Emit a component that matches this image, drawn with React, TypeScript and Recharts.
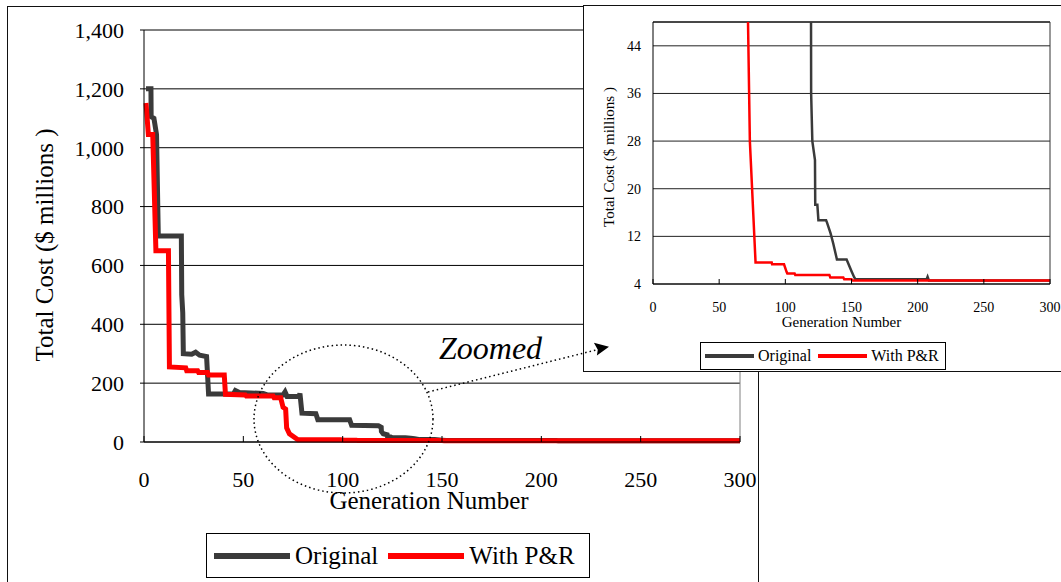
import React from 'react';
import { LineChart, Line, XAxis, YAxis, CartesianGrid, ReferenceLine, Legend } from 'recharts';

const FONT = "'Liberation Serif', 'Times New Roman', 'DejaVu Serif', serif";

// ---- data ----
const originalGen = [1, 3.5, 3.6, 5, 6.3, 7.2, 18.8, 19, 19.5, 19.8, 24, 26, 28, 31.5, 32.5, 45, 46, 48, 60, 62, 70, 71, 72, 78, 78.5, 79.5, 86.5, 87.5, 103.5, 104.5, 118, 119.4, 119.5, 120.4, 122.4, 122.6, 124.2, 125, 130.8, 131.5, 134.2, 136.2, 138.3, 139, 146.3, 150.1, 152.1, 153, 206.8, 207.5, 208.5, 300];
const originalCost = [1200, 1200, 1105, 1100, 1045, 700, 700, 500, 440, 300, 298, 305, 295, 290, 163, 163, 175, 168, 165, 160, 160, 170, 155, 155, 165, 98, 96, 76, 76, 57, 55, 50, 36, 28, 24.8, 17.3, 17.3, 14.7, 14.7, 14.3, 12.5, 10.8, 8.8, 8.1, 8.1, 6.1, 5.1, 4.8, 4.8, 5.2, 4.6, 4.6];

const prGen = [1, 2.2, 4.4, 6, 12.3, 12.8, 21, 21.5, 27, 27.5, 32, 32.5, 40.4, 41, 51, 51.5, 65, 65.5, 68.8, 70, 71.3, 71.8, 73.2, 77.5, 89.7, 90, 99, 101, 101.5, 107, 107.5, 133.3, 134, 143.8, 144.5, 150, 151, 300];
const prCost = [1152, 1045, 1045, 650, 650, 255, 252, 242, 242, 236, 236, 228, 228, 162, 160, 156, 156, 150, 150, 118, 112, 48, 28, 7.6, 7.6, 7.3, 7.3, 6.0, 5.75, 5.75, 5.5, 5.5, 5.1, 5.1, 4.8, 4.8, 4.6, 4.6];

const seriesNames = ['Original', 'With P&R'];
const seriesColors = ['#3a3a3a', '#ff0000'];

const xTicks = [0, 50, 100, 150, 200, 250, 300];
const mainYTicks = [0, 200, 400, 600, 800, 1000, 1200, 1400];
const insetYTicks = [4, 12, 20, 28, 36, 44];

const xTitle = 'Generation Number';
const yTitle = 'Total Cost ($ millions )';
const zoomNote = 'Zoomed';

const toPoints = (gens: number[], costs: number[]) => gens.map((g, i) => ({ gen: g, cost: costs[i] }));
const originalData = toPoints(originalGen, originalCost);
const prData = toPoints(prGen, prCost);

function LegendBox(props: any) {
  const { payload = [], fontSize, sampleWidth, sampleThickness, itemGap, padLeft, textGap, width, height } = props;
  return (
    <div style={{ width, height, boxSizing: 'border-box', border: '1px solid #000', background: '#fff', display: 'flex', alignItems: 'center', paddingLeft: padLeft, fontFamily: FONT, fontSize, color: '#000' }}>
      {payload.map((p: any, i: number) => (
        <div key={i} style={{ display: 'flex', alignItems: 'center', marginRight: itemGap }}>
          <div style={{ width: sampleWidth, height: sampleThickness, background: p.color }} />
          <span style={{ marginLeft: textGap, lineHeight: 1, whiteSpace: 'nowrap' }}>{p.value}</span>
        </div>
      ))}
    </div>
  );
}

const fmt = (v: number) => v.toLocaleString('en-US');

const makeXTick = (size: number) => (p: any) => (
  <text x={p.x} y={p.y} dy="0.71em" textAnchor="middle" fontSize={size} fill="#000" style={{ fontFamily: FONT }}>
    {fmt(p.payload.value)}
  </text>
);
const makeYTick = (size: number) => (p: any) => (
  <text x={p.x} y={p.y} dy="0.355em" textAnchor="end" fontSize={size} fill="#000" style={{ fontFamily: FONT }}>
    {fmt(p.payload.value)}
  </text>
);

export default function App() {
  return (
    <div style={{ position: 'absolute', left: 0, top: 0, width: 1061, height: 582, overflow: 'hidden', background: '#fff', fontFamily: FONT }}>
      {/* main chart */}
      <div style={{ position: 'absolute', left: 0, top: 0 }}>
        <LineChart width={760} height={582} margin={{ top: 30, right: 20, left: 64, bottom: 80 }}>
          <CartesianGrid horizontal vertical={false} stroke="#000" strokeWidth={1} />
          <XAxis
            type="number"
            dataKey="gen"
            domain={[0, 300]}
            ticks={xTicks}
            interval={0}
            height={60}
            tickSize={-6}
            tickMargin={35}
            stroke="#000"
            tick={makeXTick(22)}
            label={{
              content: (p: any) => {
                const vb = p.viewBox || {};
                return (
                  <text x={vb.x + vb.width / 2 - 13} y={vb.y + 67} textAnchor="middle" style={{ fontFamily: FONT }} fontSize={25} fill="#000">{xTitle}</text>
                );
              },
            }}
          />
          <YAxis
            type="number"
            domain={[0, 1400]}
            ticks={mainYTicks}
            interval={0}
            width={80}
            tickSize={4}
            tickMargin={16}
            stroke="#000"
            tick={makeYTick(22)}
            label={{
              content: (p: any) => {
                const vb = p.viewBox || {};
                const cx = vb.x - 11;
                const cy = vb.y + vb.height / 2 + 9;
                return (
                  <text x={cx} y={cy} transform={`rotate(-90, ${cx}, ${cy})`} textAnchor="middle" style={{ fontFamily: FONT }} fontSize={25} fill="#000">{yTitle}</text>
                );
              },
            }}
          />
          <ReferenceLine x={300} stroke="#808080" strokeWidth={1} />
          <Line data={originalData} dataKey="cost" name={seriesNames[0]} type="linear" stroke={seriesColors[0]} strokeWidth={5} dot={false} activeDot={false} isAnimationActive={false} />
          <Line data={prData} dataKey="cost" name={seriesNames[1]} type="linear" stroke={seriesColors[1]} strokeWidth={5} dot={false} activeDot={false} isAnimationActive={false} />
          <Legend
            layout="horizontal"
            verticalAlign="middle"
            align="center"
            wrapperStyle={{ left: 206, top: 533, width: 384, height: 45 }}
            content={(p: any) => (
              <LegendBox payload={p.payload} fontSize={25} sampleWidth={76} sampleThickness={6} itemGap={10} padLeft={7} textGap={5} width={384} height={45} />
            )}
          />
        </LineChart>
      </div>

      {/* outer frame of the main chart */}
      <div style={{ position: 'absolute', left: 7, top: 6, width: 752, height: 600, boxSizing: 'border-box', border: '1px solid #111', pointerEvents: 'none' }} />

      {/* inset chart */}
      <div style={{ position: 'absolute', left: 583, top: 5, width: 478, height: 367, background: '#fff' }}>
        <LineChart width={478} height={367} margin={{ top: 17, right: 11, left: 20, bottom: 48 }}>
          <CartesianGrid horizontal vertical={false} stroke="#222" strokeWidth={1} />
          <XAxis
            type="number"
            dataKey="gen"
            domain={[0, 300]}
            ticks={xTicks}
            interval={0}
            height={40}
            tickSize={-5}
            tickMargin={23}
            stroke="#000"
            tick={makeXTick(14)}
            label={{
              content: (p: any) => {
                const vb = p.viewBox || {};
                return (
                  <text x={vb.x + vb.width / 2 - 10} y={vb.y + 43} textAnchor="middle" style={{ fontFamily: FONT }} fontSize={15} fill="#000">{xTitle}</text>
                );
              },
            }}
          />
          <YAxis
            type="number"
            domain={[4, 48]}
            allowDataOverflow
            ticks={insetYTicks}
            interval={0}
            width={50}
            tickSize={0}
            tickMargin={12}
            stroke="#000"
            tick={makeYTick(14)}
            label={{
              content: (p: any) => {
                const vb = p.viewBox || {};
                const cx = vb.x + 11;
                const cy = vb.y + vb.height / 2 + 4;
                return (
                  <text x={cx} y={cy} transform={`rotate(-90, ${cx}, ${cy})`} textAnchor="middle" style={{ fontFamily: FONT }} fontSize={15} fill="#000">{yTitle}</text>
                );
              },
            }}
          />
          <ReferenceLine y={48} stroke="#000" strokeWidth={1} />
          <ReferenceLine x={300} stroke="#333" strokeWidth={1} />
          <Line data={originalData} dataKey="cost" name={seriesNames[0]} type="linear" stroke={seriesColors[0]} strokeWidth={2.5} dot={false} activeDot={false} isAnimationActive={false} />
          <Line data={prData} dataKey="cost" name={seriesNames[1]} type="linear" stroke={seriesColors[1]} strokeWidth={2.5} dot={false} activeDot={false} isAnimationActive={false} />
          <Legend
            layout="horizontal"
            verticalAlign="middle"
            align="center"
            wrapperStyle={{ left: 117, top: 337, width: 246, height: 28 }}
            content={(p: any) => (
              <LegendBox payload={p.payload} fontSize={16} sampleWidth={49} sampleThickness={3.5} itemGap={7} padLeft={4} textGap={4} width={246} height={28} />
            )}
          />
        </LineChart>
      </div>
      <div style={{ position: 'absolute', left: 583, top: 5, width: 490, height: 367, boxSizing: 'border-box', border: '1px solid #111', pointerEvents: 'none' }} />

      {/* annotations */}
      <svg width={1061} height={582} style={{ position: 'absolute', left: 0, top: 0, pointerEvents: 'none' }}>
        <ellipse cx={343.5} cy={419} rx={89.5} ry={74} fill="none" stroke="#000" strokeWidth={1.5} strokeDasharray="1.5 3" />
        <line x1={428} y1={392} x2={598} y2={349.5} stroke="#000" strokeWidth={1.5} strokeDasharray="1.5 3" />
        <polygon points="609,346.7 593.9,342.8 597.8,349.8 596.9,355.6" fill="#000" />
        <text x={439} y={359} style={{ fontFamily: FONT, fontStyle: 'italic' }} fontSize={32} fill="#000">{zoomNote}</text>
      </svg>
    </div>
  );
}
